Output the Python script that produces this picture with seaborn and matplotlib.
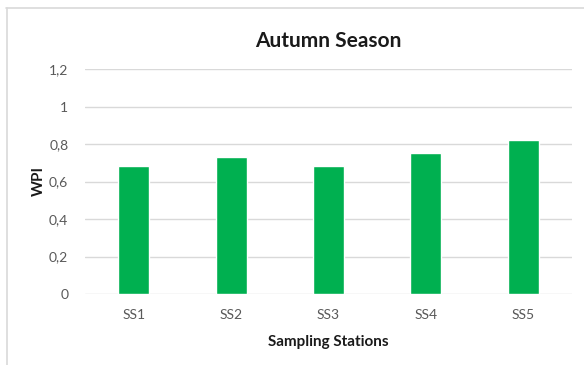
import pandas as pd
import matplotlib
matplotlib.use("Agg")
import matplotlib.pyplot as plt
import seaborn as sns
from matplotlib.lines import Line2D
from matplotlib.ticker import FuncFormatter

# --- Data ---
stations = ["SS1", "SS2", "SS3", "SS4", "SS5"]
wpi = [0.685, 0.73, 0.685, 0.75, 0.82]

df = pd.DataFrame({"Station": stations, "WPI": wpi})

# --- Style ---
sns.set_style("white")
plt.rcParams["font.family"] = ["Lato", "DejaVu Sans"]

fig = plt.figure(figsize=(5.84, 3.65), dpi=100)
ax = fig.add_axes([85 / 584, 1 - 294 / 365, (572 - 85) / 584, (294 - 69) / 365])

sns.barplot(data=df, x="Station", y="WPI", color="#00b050", width=0.32,
            saturation=1, ax=ax, zorder=3)

ax.set_ylim(0, 1.2)
ax.set_yticks([0, 0.2, 0.4, 0.6, 0.8, 1.0, 1.2])
ax.yaxis.set_major_formatter(FuncFormatter(lambda v, p: f"{v:g}".replace(".", ",")))
ax.grid(axis="y", color="#d9d9d9", linewidth=1, zorder=0)
ax.set_axisbelow(True)
for s in ax.spines.values():
    s.set_visible(False)
ax.tick_params(axis="both", length=0, labelsize=10, labelcolor="#595959")
ax.tick_params(axis="y", pad=12)
ax.tick_params(axis="x", pad=11)

ax.set_title("Autumn Season", fontsize=15, fontweight="bold", color="#1a1a1a", pad=16)
ax.set_xlabel("Sampling Stations", fontsize=11, fontweight="bold", color="#1a1a1a", labelpad=10)
ax.set_ylabel("WPI", fontsize=11, fontweight="bold", color="#1a1a1a", labelpad=2)

# chart frame (top and left edges visible)
fig.add_artist(Line2D([6 / 584, 1], [1 - 8 / 365, 1 - 8 / 365], color="#d9d9d9", lw=1.2,
                      transform=fig.transFigure))
fig.add_artist(Line2D([6.5 / 584, 6.5 / 584], [0, 1 - 8 / 365], color="#d9d9d9", lw=1.2,
                      transform=fig.transFigure))

fig.savefig("out.png", dpi=100)
